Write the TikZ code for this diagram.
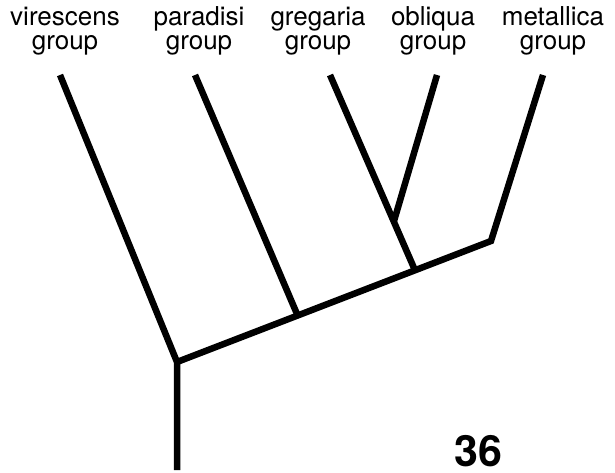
\documentclass[tikz,border=0pt]{standalone}
\usepackage{fontspec}
\setmainfont{TeX Gyre Heros}
\begin{document}
\begin{tikzpicture}[x=1pt,y=-1pt,
  branch/.style={line width=6.5pt,line cap=butt,line join=miter},
  grouplabel/.style={align=center,font=\fontsize{26}{24}\selectfont,inner sep=0pt,anchor=base}]
\useasboundingbox (0,0) rectangle (615,473);
% taxon labels (anchored at the baseline of the last line)
\node[grouplabel] (vir) at (65,50) {virescens\\group};
\node[grouplabel] (par) at (199,50) {paradisi\\group};
\node[grouplabel] (gre) at (318,50) {gregaria\\group};
\node[grouplabel] (obl) at (433,50) {obliqua\\group};
\node[grouplabel] (met) at (553,50) {metallica\\group};
% tips and internal nodes
\coordinate (tvir) at (60,75);
\coordinate (tpar) at (195,75);
\coordinate (tgre) at (330,75);
\coordinate (tobl) at (437,75);
\coordinate (tmet) at (543,75);
\coordinate (base) at (177,470);
\coordinate (root) at (177,362);
\coordinate (npar) at (297,314);
\coordinate (ngre) at (414,268);
\coordinate (nobl) at (394,221);
\coordinate (nmet) at (491,241);
% branches
\draw[branch] (base) -- (root) -- (tvir);
\draw[branch] (root) -- (nmet) -- (tmet);
\draw[branch] (npar) -- (tpar);
\draw[branch] (ngre) -- (tgre);
\draw[branch] (nobl) -- (tobl);
% plate number
\node[font=\fontsize{43}{43}\selectfont\bfseries,inner sep=0pt] (num) at (478,451) {36};
\end{tikzpicture}
\end{document}
